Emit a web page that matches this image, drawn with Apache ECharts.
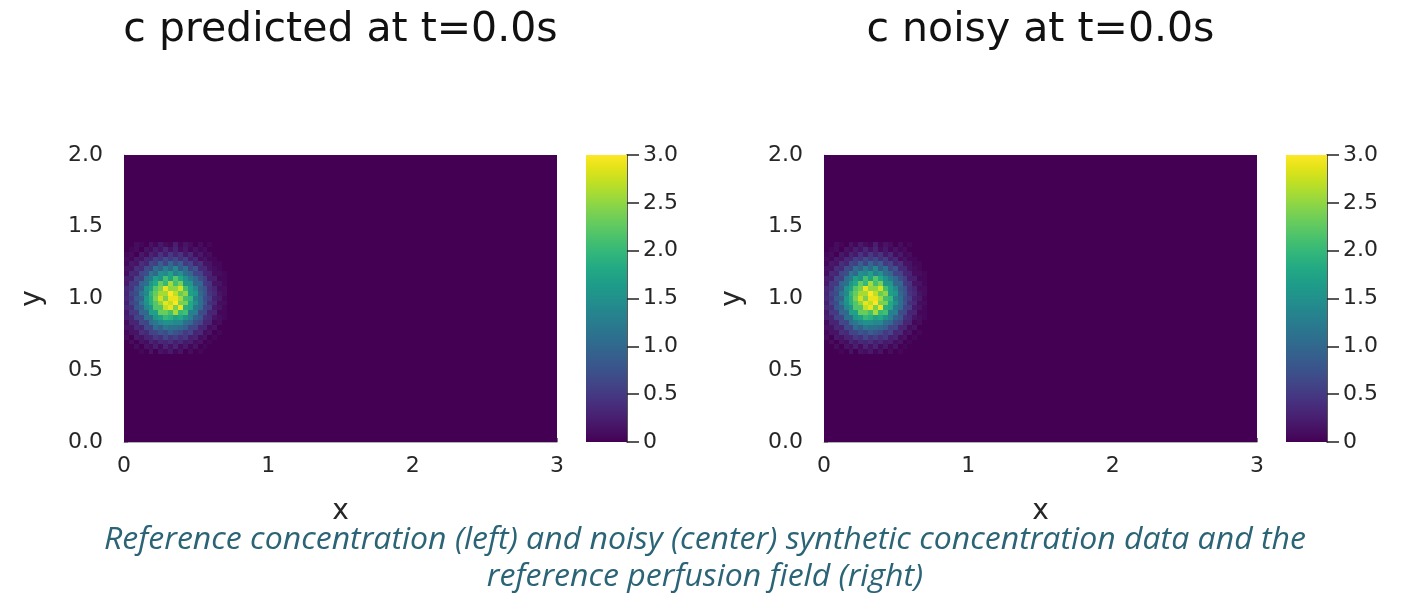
<!DOCTYPE html>
<html>
<head>
<meta charset="utf-8">
<script src="https://cdn.jsdelivr.net/npm/echarts@6/dist/echarts.min.js"></script>
<style>
  html, body { margin: 0; padding: 0; background: #ffffff; }
  #chart { width: 1407px; height: 595px; }
</style>
</head>
<body>
<div id="chart"></div>
<script>
// ---- data -------------------------------------------------------------
const panelTitles = ['c predicted at t=0.0s', 'c noisy at t=0.0s'];
const captionLines = [
  'Reference concentration (left) and noisy (center) synthetic concentration data and the',
  'reference perfusion field (right)'
];

const xTicks = [0, 1, 2, 3];
const xTickLabels = ['0', '1', '2', '3'];
const yTicks = [0, 0.5, 1, 1.5, 2];
const yTickLabels = ['0.0', '0.5', '1.0', '1.5', '2.0'];
const colorTicks = [0, 0.5, 1, 1.5, 2, 2.5, 3];
const colorTickLabels = ['0', '0.5', '1.0', '1.5', '2.0', '2.5', '3.0'];
const colorRange = [0, 3];

// spatial domain of the concentration field and its cell size
const domainX = [0, 3];
const domainY = [0, 2];
const cellSize = 0.034;
// value of the field outside the tracer patch
const fieldBackground = 0;

// tracer patch: grid index of its lower-left cell (first column lies just left of x = 0)
const patchCol0 = -1;
const patchRow0 = 18;
// concentration at t = 0, rows listed from the top of the patch to its bottom
const concentrationT0 = [
  [0,0,0,0.1,0.05,0,0.15,0.05,0.2,0.1,0.05,0.25,0.05,0.15,0.1,0,0.1,0,0.05,0,0,0],
  [0,0,0.05,0.1,0,0.15,0.1,0.25,0.15,0.35,0.15,0.3,0.1,0.2,0.05,0.15,0.05,0.1,0,0,0,0],
  [0,0.05,0.1,0,0.2,0.1,0.3,0.2,0.45,0.25,0.5,0.3,0.45,0.2,0.35,0.1,0.2,0.05,0.1,0,0,0],
  [0,0.1,0.05,0.2,0.15,0.35,0.3,0.55,0.45,0.7,0.5,0.65,0.4,0.55,0.25,0.35,0.1,0.15,0.05,0.05,0,0],
  [0.05,0.05,0.2,0.15,0.4,0.3,0.65,0.55,0.9,0.6,1.0,0.7,0.9,0.5,0.6,0.3,0.4,0.15,0.15,0.05,0.05,0],
  [0.05,0.15,0.15,0.4,0.35,0.7,0.6,1.1,0.9,1.3,1.0,1.4,0.85,1.1,0.6,0.75,0.35,0.35,0.15,0.1,0.05,0],
  [0.1,0.1,0.35,0.3,0.65,0.7,1.2,1.0,1.5,1.4,1.7,1.3,1.5,1.1,1.0,0.6,0.6,0.3,0.3,0.1,0.1,0.05],
  [0.1,0.25,0.25,0.6,0.55,1.1,1.2,1.7,1.5,2.1,1.7,2.2,1.8,1.5,1.2,1.0,0.7,0.55,0.25,0.25,0.05,0.05],
  [0.15,0.2,0.5,0.5,1.0,1.1,1.6,1.8,2.3,2.0,2.6,2.1,2.4,1.6,1.6,1.0,1.0,0.5,0.45,0.15,0.15,0.05],
  [0.15,0.35,0.45,0.8,0.9,1.5,1.7,2.2,2.4,2.9,2.5,2.5,2.8,2.1,1.7,1.4,0.9,0.75,0.4,0.3,0.1,0.1],
  [0.25,0.3,0.6,0.7,1.2,1.4,2.0,2.3,2.6,2.6,3.0,2.7,2.3,2.5,1.7,1.6,1.0,0.8,0.45,0.35,0.15,0.1],
  [0.15,0.35,0.5,0.85,0.95,1.6,1.9,2.4,2.8,2.4,2.9,2.9,2.6,2.1,2.0,1.3,1.1,0.7,0.55,0.25,0.2,0.05],
  [0.2,0.25,0.6,0.7,1.2,1.5,1.9,2.2,2.5,2.9,2.7,3.0,2.4,2.4,1.8,1.5,1.1,0.8,0.4,0.35,0.1,0.1],
  [0.15,0.35,0.4,0.8,0.9,1.4,1.6,2.2,2.2,2.7,2.9,2.4,2.9,1.9,1.8,1.2,1.05,0.6,0.55,0.2,0.15,0.05],
  [0.1,0.2,0.5,0.5,1.0,1.0,1.7,1.7,2.3,2.3,2.1,2.6,2.0,2.1,1.3,1.3,0.7,0.65,0.3,0.3,0.05,0.05],
  [0.1,0.25,0.3,0.6,0.6,1.1,1.1,1.6,1.7,2.0,1.9,1.7,1.8,1.5,1.3,0.9,0.8,0.4,0.35,0.15,0.1,0.05],
  [0.05,0.1,0.3,0.3,0.65,0.6,1.1,1.2,1.4,1.5,1.5,1.4,1.4,1.1,1.0,0.7,0.6,0.3,0.3,0.05,0.1,0],
  [0.05,0.15,0.15,0.35,0.3,0.65,0.6,1.05,0.9,1.2,1.1,1.1,1.0,0.9,0.6,0.6,0.3,0.3,0.1,0.15,0,0],
  [0,0.05,0.15,0.15,0.4,0.35,0.6,0.6,0.8,0.7,0.9,0.75,0.7,0.5,0.6,0.3,0.35,0.1,0.15,0,0.05,0],
  [0,0.1,0,0.2,0.15,0.3,0.3,0.5,0.4,0.65,0.45,0.55,0.4,0.5,0.25,0.3,0.1,0.15,0,0.05,0,0],
  [0,0,0.1,0,0.15,0.1,0.3,0.2,0.35,0.3,0.4,0.25,0.35,0.2,0.25,0.1,0.15,0,0.05,0,0,0],
  [0,0,0,0.1,0,0.15,0.1,0.25,0.1,0.3,0.15,0.3,0.1,0.2,0.05,0.15,0,0.05,0,0,0,0],
  [0,0,0,0,0.05,0,0.15,0,0.15,0.1,0.2,0.05,0.15,0,0.1,0,0.05,0,0,0,0,0]
];
// at t = 0 the noisy observation coincides with the predicted field
const predictedC = concentrationT0;
const noisyC = concentrationT0;

// viridis colour map
const viridis = [
  '#440154', '#471365', '#482475', '#463480', '#414487', '#3b528b', '#355f8d',
  '#2f6c8e', '#2a788e', '#25848e', '#21918c', '#1e9c89', '#22a884', '#2fb47c',
  '#44bf70', '#5ec962', '#7ad151', '#9bd93c', '#bddf26', '#dfe318', '#fde725'
];

// ---- helpers ------------------------------------------------------------
const FONT = 'DejaVu Sans';
const TEXT = '#262626';

// cells as [x0, y0, x1, y1, value]; the first item is the whole domain
function buildCells(rows) {
  const cells = [[domainX[0], domainY[0], domainX[1], domainY[1], fieldBackground]];
  const n = rows.length;
  rows.forEach((row, r) => {
    const j = patchRow0 + (n - 1 - r);
    row.forEach((v, i) => {
      if (v === 0) return;
      const c = patchCol0 + i;
      cells.push([c * cellSize, j * cellSize, (c + 1) * cellSize, (j + 1) * cellSize, v]);
    });
  });
  return cells;
}

function renderCell(params, api) {
  const p0 = api.coord([api.value(0), api.value(1)]);
  const p1 = api.coord([api.value(2), api.value(3)]);
  const x0 = Math.round(Math.min(p0[0], p1[0]));
  const x1 = Math.round(Math.max(p0[0], p1[0]));
  const y0 = Math.round(Math.min(p0[1], p1[1]));
  const y1 = Math.round(Math.max(p0[1], p1[1]));
  return {
    type: 'rect',
    shape: { x: x0, y: y0, width: x1 - x0, height: y1 - y0 },
    style: { fill: api.visual('color') }
  };
}

function tickLabel(ticks, labels) {
  return v => {
    const k = ticks.findIndex(t => Math.abs(t - v) < 1e-9);
    return k >= 0 ? labels[k] : '';
  };
}

// ---- layout -------------------------------------------------------------
const panels = [
  { left: 124, cbarLeft: 586, data: predictedC },
  { left: 824, cbarLeft: 1286, data: noisyC }
];
const plotTop = 155, plotW = 433, plotH = 287, cbarW = 41;

const grids = [], xAxes = [], yAxes = [], series = [], graphics = [];

panels.forEach((p, k) => {
  const gHeat = grids.length;
  grids.push({ left: p.left, top: plotTop, width: plotW, height: plotH });
  const gBar = grids.length;
  grids.push({ left: p.cbarLeft, top: plotTop, width: cbarW, height: plotH });

  xAxes.push({
    gridIndex: gHeat, type: 'value', min: domainX[0], max: domainX[1], interval: 1,
    axisLine: { show: true, lineStyle: { color: '#b0b0b0', width: 1 } },
    axisTick: { show: true, inside: true, length: 4, lineStyle: { color: '#777' } },
    splitLine: { show: false },
    axisLabel: { fontFamily: FONT, fontSize: 22, color: TEXT, margin: 13,
                 formatter: tickLabel(xTicks, xTickLabels) },
    name: 'x', nameLocation: 'middle', nameGap: 56,
    nameTextStyle: { fontFamily: FONT, fontSize: 28, color: TEXT }
  });
  yAxes.push({
    gridIndex: gHeat, type: 'value', min: domainY[0], max: domainY[1], interval: 0.5,
    axisLine: { show: true, lineStyle: { color: '#b0b0b0', width: 1 } },
    axisTick: { show: true, inside: true, length: 4, lineStyle: { color: '#777' } },
    splitLine: { show: false },
    axisLabel: { fontFamily: FONT, fontSize: 22, color: TEXT, margin: 21,
                 formatter: tickLabel(yTicks, yTickLabels) },
    name: 'y', nameLocation: 'middle', nameGap: 77,
    nameTextStyle: { fontFamily: FONT, fontSize: 28, color: TEXT }
  });

  // colour bar axes
  xAxes.push({
    gridIndex: gBar, type: 'category', data: [''],
    show: false
  });
  yAxes.push({
    gridIndex: gBar, type: 'value', position: 'right',
    min: colorRange[0], max: colorRange[1], interval: 0.5,
    axisLine: { show: true, lineStyle: { color: '#222', width: 1.5 } },
    axisTick: { show: true, inside: false, length: 12, lineStyle: { color: '#222', width: 1.5 } },
    splitLine: { show: false },
    axisLabel: { fontFamily: FONT, fontSize: 22, color: TEXT, margin: 16,
                 formatter: tickLabel(colorTicks, colorTickLabels) }
  });

  series.push({
    type: 'custom', name: panelTitles[k],
    xAxisIndex: gHeat, yAxisIndex: gHeat,
    renderItem: renderCell, clip: true,
    encode: { x: [0, 2], y: [1, 3] },
    data: buildCells(p.data),
    silent: true
  });
  series.push({
    type: 'bar', xAxisIndex: gBar, yAxisIndex: gBar,
    data: [colorRange[1]], barWidth: '100%', silent: true,
    itemStyle: {
      color: new echarts.graphic.LinearGradient(0, 1, 0, 0,
        viridis.map((c, i) => ({ offset: i / (viridis.length - 1), color: c })))
    }
  });

  graphics.push({
    type: 'text', x: p.left + plotW / 2, y: 30,
    style: { text: panelTitles[k], font: '41px "DejaVu Sans"', fill: '#111',
             textAlign: 'center', textVerticalAlign: 'middle' }
  });
});

// caption: Open Sans italic, condensed to the caption width
const captionFont = 'italic 31px "Open Sans"';
const measure = document.createElement('canvas').getContext('2d');
measure.font = captionFont;
const captionScale = 1202 / measure.measureText(captionLines[0]).width;
captionLines.forEach((line, i) => {
  graphics.push({
    type: 'text', x: 705, y: 540 + i * 37, scaleX: captionScale,
    style: { text: line, font: captionFont, fill: '#2b6476',
             textAlign: 'center', textVerticalAlign: 'middle' }
  });
});

const chart = echarts.init(document.getElementById('chart'), null, { renderer: 'canvas' });
chart.setOption({
  backgroundColor: '#ffffff',
  animation: false,
  grid: grids,
  xAxis: xAxes,
  yAxis: yAxes,
  visualMap: [{
    type: 'continuous', show: false, min: colorRange[0], max: colorRange[1],
    dimension: 4, seriesIndex: [0, 2], inRange: { color: viridis }
  }],
  series: series,
  graphic: graphics
});
</script>
</body>
</html>
